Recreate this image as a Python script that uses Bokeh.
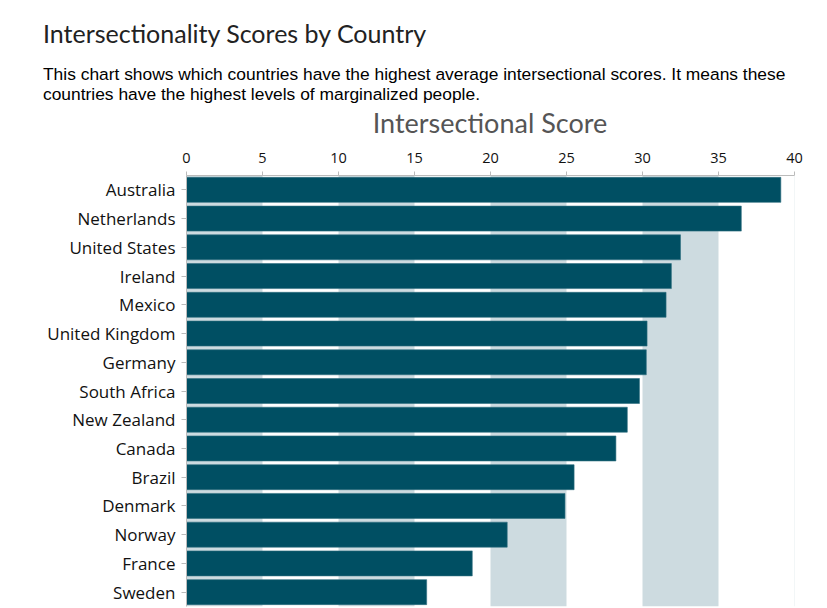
from bokeh.plotting import figure
from bokeh.models import Div, Range1d, FactorRange, Span, FixedTicker, ColumnDataSource, BoxAnnotation
from bokeh.layouts import column
from bokeh.embed import file_html
from bokeh.resources import INLINE

countries = ["Australia", "Netherlands", "United States", "Ireland", "Mexico",
             "United Kingdom", "Germany", "South Africa", "New Zealand", "Canada",
             "Brazil", "Denmark", "Norway", "France", "Sweden"]
scores = [39.1, 36.5, 32.5, 31.9, 31.55, 30.3, 30.25, 29.8, 29.0, 28.25,
          25.5, 24.9, 21.1, 18.8, 15.8]
x_ticks = [0, 5, 10, 15, 20, 25, 30, 35, 40]

headline = Div(text="Intersectionality Scores by Country", width=819, height=58,
               styles={"font-family": "Lato", "font-size": "25px", "color": "#222",
                       "line-height": "30px", "padding-top": "18px", "padding-left": "43px",
                       "margin": "0", "box-sizing": "border-box"})
subtitle = Div(text="This chart shows which countries have the highest average intersectional scores. "
                    "It means these countries have the highest levels of marginalized people.",
               width=819, height=50,
               styles={"font-family": "Liberation Sans", "font-size": "17.4px", "color": "#000",
                       "line-height": "20px", "padding-top": "6px", "padding-left": "43px",
                       "padding-right": "20px", "margin": "0", "box-sizing": "border-box"})
chart_title = Div(text="Intersectional Score", width=819, height=32,
                  styles={"font-family": "Lato", "font-size": "27px", "color": "#555555",
                          "line-height": "30px", "padding-top": "0px", "padding-left": "186px",
                          "padding-right": "25px", "text-align": "center",
                          "margin": "0", "box-sizing": "border-box"})

src = ColumnDataSource(data=dict(country=countries, score=scores))

p = figure(width=819, height=468, output_backend="svg", toolbar_location=None,
           x_range=Range1d(0, 40), y_range=FactorRange(factors=countries[::-1], range_padding=0),
           x_axis_location="above",
           min_border_left=186, min_border_right=25, min_border_top=35, min_border_bottom=2)

# alternating background bands (0-5, 10-15, 20-25, 30-35)
for b in range(0, 40, 10):
    p.add_layout(BoxAnnotation(left=b, right=b + 5, fill_color="#cddbe0", fill_alpha=1.0,
                               line_color=None, level="underlay"))

p.hbar(y="country", right="score", left=0, height=0.87, source=src,
       fill_color="#004f63", line_color="#2f6f80", line_width=0.6)

p.xaxis.ticker = FixedTicker(ticks=x_ticks)
p.xaxis.major_label_text_font = "Open Sans"
p.xaxis.major_label_text_font_size = "14.5px"
p.xaxis.major_label_text_color = "#111"
p.xaxis.axis_line_color = "#bbbbbb"
p.xaxis.major_tick_line_color = "#bbbbbb"
p.xaxis.major_tick_out = 4
p.xaxis.major_tick_in = 0
p.xaxis.minor_tick_line_color = None
p.xaxis.major_label_standoff = 9

p.yaxis.major_label_text_font = "Open Sans"
p.yaxis.major_label_text_font_size = "17px"
p.yaxis.major_label_text_color = "#111"
p.yaxis.axis_line_color = "#bbbbbb"
p.yaxis.major_tick_line_color = "#bbbbbb"
p.yaxis.major_tick_out = 5
p.yaxis.major_tick_in = 0
p.yaxis.major_label_standoff = 6

p.xgrid.grid_line_color = None
p.ygrid.grid_line_color = None
p.outline_line_color = None
p.add_layout(Span(location=40, dimension="height", line_color="#e6eef0", line_width=1))

layout = column(headline, subtitle, chart_title, p, spacing=0)
open("out.html", "w").write(file_html(layout, INLINE))
